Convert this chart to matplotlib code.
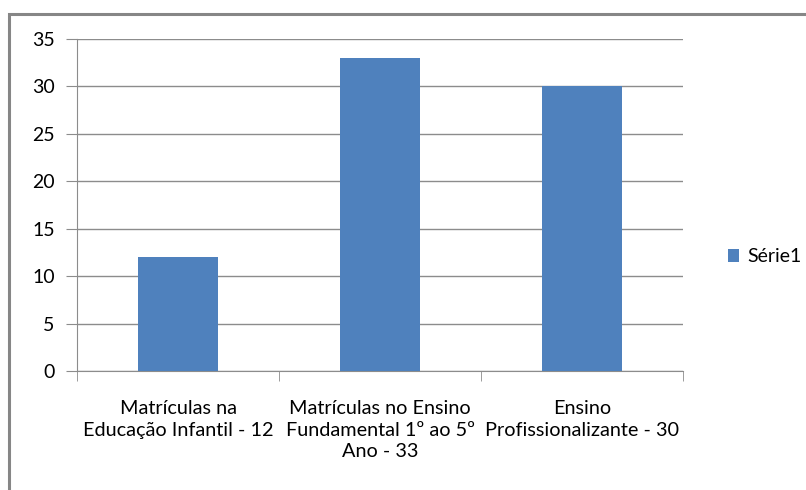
import numpy as np
import matplotlib.pyplot as plt
from matplotlib.patches import Rectangle

categories = ['Matrículas na\nEducação Infantil - 12',
              'Matrículas no Ensino\nFundamental 1º ao 5º\nAno - 33',
              'Ensino\nProfissionalizante - 30']
values = [12, 33, 30]
series_name = 'Série1'
yticks = [0, 5, 10, 15, 20, 25, 30, 35]

plt.rcParams['font.family'] = ['Lato', 'DejaVu Sans']

fig = plt.figure(figsize=(8.06, 4.90), dpi=100)
# outer chart border (runs off the right/bottom edges like the source)
fig.patches.append(Rectangle((9 / 806, -0.1), 1.2, 1 - 14 / 490 + 0.1,
                             transform=fig.transFigure, fill=False,
                             edgecolor='#868686', linewidth=2.2))

ax = fig.add_axes([77 / 806, 1 - 371 / 490, 606 / 806, 332 / 490])
x = np.arange(len(categories))
bars = ax.bar(x, values, width=0.4, color='#4F81BD', label=series_name, zorder=3)

ax.set_xlim(-0.5, 2.5)
ax.set_ylim(0, 35)
ax.set_yticks(yticks)
ax.yaxis.grid(True, color='#8C8C8C', linewidth=1)
ax.set_axisbelow(True)

for s in ['top', 'right']:
    ax.spines[s].set_visible(False)
ax.spines['left'].set_color('#8C8C8C')
ax.spines['bottom'].set_color('#8C8C8C')

ax.tick_params(axis='y', length=8, color='#8C8C8C', labelsize=14, pad=8)
ax.set_xticks(x)
ax.set_xticklabels(categories, fontsize=14.3, linespacing=1.32)
ax.set_xticks([-0.5, 0.5, 1.5, 2.5], minor=True)
ax.tick_params(axis='x', which='major', length=0, pad=21)
ax.tick_params(axis='x', which='minor', length=7, color='#8C8C8C')

ax.legend(loc='center left', bbox_to_anchor=(1.045, (371 - 257) / 332),
          frameon=False, fontsize=14, handlelength=0.6, handleheight=0.6,
          handletextpad=0.4)

fig.savefig('out.png', dpi=100)
